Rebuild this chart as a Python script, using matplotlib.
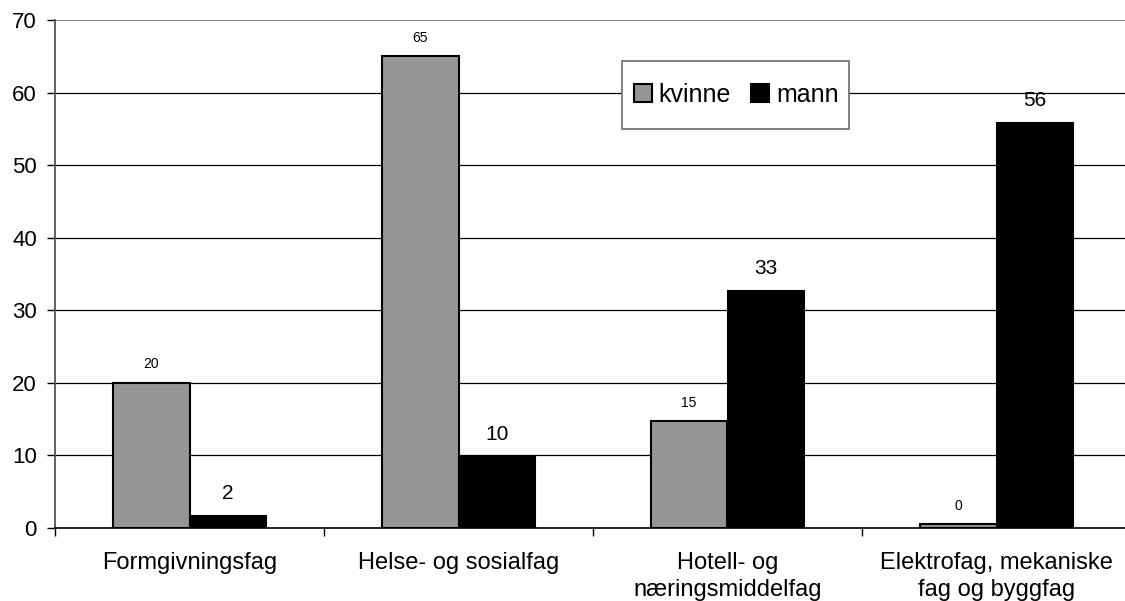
import numpy as np
import matplotlib.pyplot as plt
from matplotlib.patches import Rectangle
from matplotlib.ticker import FixedLocator

plt.rcParams['font.family'] = ['Liberation Sans', 'DejaVu Sans']

categories = ['Formgivningsfag', 'Helse- og sosialfag', 'Hotell- og\nnæringsmiddelfag',
              'Elektrofag, mekaniske\nfag og byggfag']
kvinne = [20.0, 65.0, 14.7, 0.5]
mann = [1.6, 9.8, 32.7, 55.8]

fig = plt.figure(figsize=(11.25, 6.01), dpi=100)
ax = fig.add_axes([55/1125, 73/601, 1070/1125, 508/601])

x = np.arange(len(categories))
w = 1/3.5
b1 = ax.bar(x - w/2, kvinne, w, color='#969696', edgecolor='black', linewidth=1.5, label='kvinne', zorder=3)
b2 = ax.bar(x + w/2, mann, w, color='black', edgecolor='black', linewidth=1.5, label='mann', zorder=3)

# kvinne values in small print, mann values larger
for rect, v in zip(b1, kvinne):
    ax.text(rect.get_x() + rect.get_width()/2, v + 1.6, f'{v:.0f}', ha='center', va='bottom', fontsize=10)
for rect, v in zip(b2, mann):
    ax.text(rect.get_x() + rect.get_width()/2, v + 1.8, f'{v:.0f}', ha='center', va='bottom', fontsize=15)

ax.set_xlim(-0.5, -0.5 + 1070/269)
ax.set_ylim(0, 70)
ax.set_yticks(np.arange(0, 71, 10))
ax.tick_params(axis='y', labelsize=16, length=6, direction='out', width=1, pad=7)
ax.yaxis.grid(True, color='black', linewidth=0.9, zorder=0)
ax.get_ygridlines()[-1].set_color('#808080')
ax.get_ygridlines()[-1].set_linewidth(1.5)

ax.set_xticks(x)
ax.set_xticklabels(categories, fontsize=17, linespacing=1.3)
ax.tick_params(axis='x', length=0, pad=17)
ax.xaxis.set_minor_locator(FixedLocator([-0.5, 0.5, 1.5, 2.5]))
ax.tick_params(axis='x', which='minor', length=6, direction='out', width=1)

for s in ['top', 'right']:
    ax.spines[s].set_visible(False)
ax.spines['left'].set_color('#555555')
ax.spines['left'].set_linewidth(1.3)
ax.spines['bottom'].set_linewidth(1.2)

# legend frame drawn separately so the padding can differ horizontally and vertically
ax.add_patch(Rectangle((622/1125, 1 - 129/601), 227/1125, 68/601, transform=fig.transFigure,
                       clip_on=False, facecolor='white', edgecolor='#777777', linewidth=1.3, zorder=4))
leg = ax.legend(loc='center', bbox_to_anchor=(736/1125, 1 - 95/601), bbox_transform=fig.transFigure,
                ncol=2, fontsize=18, frameon=False, handlelength=0.72, handleheight=0.72,
                handletextpad=0.28, columnspacing=0.8, borderpad=0, borderaxespad=0)
leg.set_zorder(5)

fig.savefig('out.png', dpi=100)
